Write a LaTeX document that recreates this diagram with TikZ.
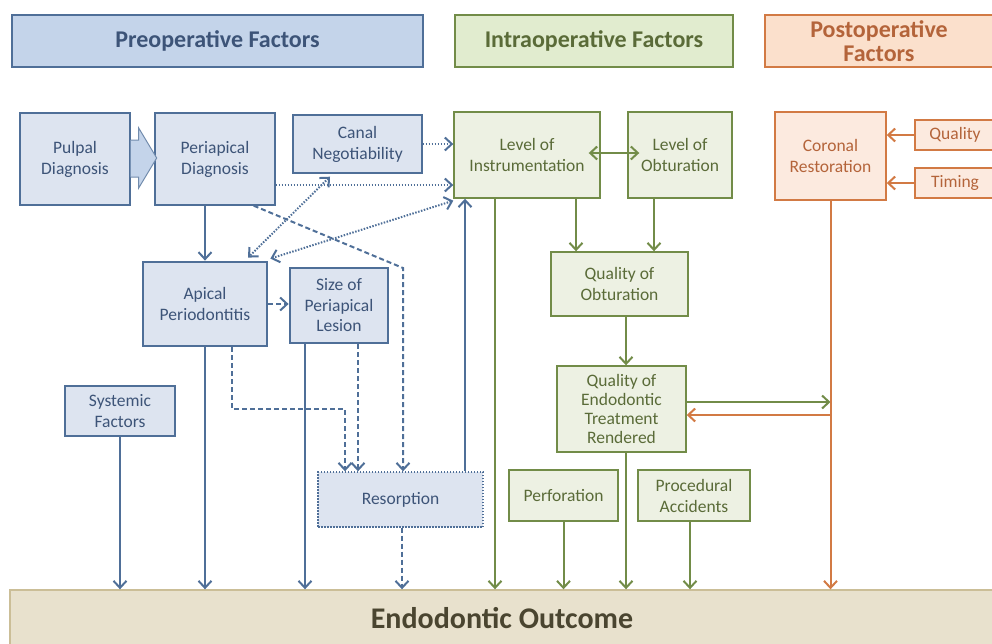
\documentclass[tikz,border=0pt]{standalone}
\usepackage{fontspec}
\setmainfont{Carlito}
\usetikzlibrary{arrows.meta}

\definecolor{preline}{HTML}{4F6F98}
\definecolor{prefill}{HTML}{DDE4F0}
\definecolor{prehead}{HTML}{C4D4EA}
\definecolor{pretext}{HTML}{3D5478}
\definecolor{intraline}{HTML}{728C48}
\definecolor{intrafill}{HTML}{EDF1E3}
\definecolor{intrahead}{HTML}{E1ECCF}
\definecolor{intratext}{HTML}{5A6B38}
\definecolor{postline}{HTML}{D27A44}
\definecolor{postfill}{HTML}{FCEADF}
\definecolor{posthead}{HTML}{FBE0CC}
\definecolor{posttext}{HTML}{B4643A}
\definecolor{outfill}{HTML}{E8E1CD}
\definecolor{outline}{HTML}{CBBE97}
\definecolor{outtext}{HTML}{4A4530}

\tikzset{
  box/.style={draw, line width=1.4pt, align=center, inner sep=2pt,
    font=\fontsize{17.5}{21}\selectfont},
  prebox/.style={box, draw=preline, fill=prefill, text=pretext},
  intrabox/.style={box, draw=intraline, fill=intrafill, text=intratext},
  postbox/.style={box, draw=postline, fill=postfill, text=posttext},
  header/.style={box, line width=1.8pt, font=\fontsize{24}{24.5}\selectfont\bfseries},
  preflow/.style={->, draw=preline, line width=2pt},
  intraflow/.style={->, draw=intraline, line width=2pt},
  postflow/.style={->, draw=postline, line width=2pt},
  dashedflow/.style={dash pattern=on 5pt off 3pt},
  dottedflow/.style={dash pattern=on 1.5pt off 1.5pt},
}

\begin{document}
\begin{tikzpicture}[x=1pt, y=-1pt, >={Straight Barb[length=7pt,width=13pt]}]

  \useasboundingbox (0,0) rectangle (992,643);

  \node[header, draw=preline, fill=prehead, text=pretext, minimum width=411, minimum height=52] (prehdr) at (217.5,41) {Preoperative Factors};
  \node[header, draw=intraline, fill=intrahead, text=intratext, minimum width=278, minimum height=52] (intrahdr) at (594,41) {Intraoperative Factors};
  \node[header, draw=postline, fill=posthead, text=posttext, minimum width=228, minimum height=52] (posthdr) at (879,41) {Postoperative\\Factors};

  \node[prebox, minimum width=110, minimum height=92] (pulpal) at (75,159) {Pulpal\\Diagnosis};
  \node[prebox, minimum width=120, minimum height=92] (periapical) at (215,159) {Periapical\\Diagnosis};
  \node[prebox, minimum width=129, minimum height=58] (canal) at (357.5,144) {Canal\\Negotiability};
  \node[prebox, line width=2.8pt, minimum width=124, minimum height=84] (apical) at (205,304) {Apical\\Periodontitis};
  \node[prebox, line width=2.8pt, minimum width=98, minimum height=75, font=\fontsize{17.5}{20.5}\selectfont] (lesion) at (339,305.5) {Size of\\Periapical\\Lesion};
  \node[prebox, minimum width=110, minimum height=50] (systemic) at (120,411) {Systemic\\Factors};
  \node[prebox, dottedflow, minimum width=165, minimum height=55] (resorption) at (400.5,499.5) {Resorption};

  \node[intrabox, minimum width=146, minimum height=86] (instr) at (527,155) {Level of\\Instrumentation};
  \node[intrabox, minimum width=104, minimum height=86] (obtur) at (680,155) {Level of\\Obturation};
  \node[intrabox, minimum width=137, minimum height=64] (qobt) at (619.5,284) {Quality of\\Obturation};
  \node[intrabox, minimum width=129, minimum height=86, font=\fontsize{17.5}{19}\selectfont] (qendo) at (621.5,409) {Quality of\\Endodontic\\Treatment\\Rendered};
  \node[intrabox, minimum width=109, minimum height=51] (perforation) at (563.5,495.5) {Perforation};
  \node[intrabox, minimum width=112, minimum height=51] (accidents) at (694,495.5) {Procedural\\Accidents};

  \node[postbox, minimum width=111, minimum height=88] (coronal) at (830.5,156) {Coronal\\Restoration};
  \node[postbox, minimum width=80, minimum height=30] (quality) at (955,135) {Quality};
  \node[postbox, minimum width=80, minimum height=30] (timing) at (955,183) {Timing};

  \node[draw=outline, fill=outfill, text=outtext, line width=1.4pt, minimum width=984, minimum height=56,
    font=\fontsize{30}{32}\selectfont\bfseries] (outcome) at (502,618) {Endodontic Outcome};

  \draw[draw=preline!80, fill=prehead, line width=1pt, shift={(pulpal.east)}]
    (0,-19) -- (8,-19) -- (8,-31) -- (26,-1) -- (8,29) -- (8,18) -- (0,18);

  \draw[preflow] (apical.north |- periapical.south) -- (apical.north);
  \draw[preflow, dottedflow] (canal.east) -- (canal.east -| instr.west);
  \draw[preflow, dottedflow] ([yshift=-26pt]periapical.east) -- ([yshift=-26pt]periapical.east -| instr.west);
  \draw[preflow, dottedflow, <->] ([xshift=-27.5pt,yshift=-3pt]canal.south) -- ([xshift=43pt,yshift=3pt]apical.north);
  \draw[preflow, dottedflow, <->] ([yshift=-2pt]instr.south west) -- ([xshift=2pt,yshift=2pt]apical.north east);
  \coordinate (bend) at (403,268);
  \draw[preflow, dashedflow] ([xshift=-22pt]periapical.south east) -- (bend) -- (bend |- resorption.north);
  \draw[preflow, dashedflow] (apical.east) -- (apical.east -| lesion.west);
  \draw[preflow, dashedflow] ([xshift=27pt]apical.south) -- ++(0,62) -| ([xshift=-55.5pt]resorption.north);
  \draw[preflow, dashedflow] ([xshift=19pt]lesion.south) -- ([xshift=19pt]lesion.south |- resorption.north);
  \draw[preflow] ([xshift=64.5pt]resorption.north) -- ([xshift=64.5pt]resorption.north |- instr.south);

  \draw[preflow] (systemic.south) -- (systemic.south |- outcome.north);
  \draw[preflow] (apical.south) -- (apical.south |- outcome.north);
  \draw[preflow] ([xshift=-34pt]lesion.south) -- ([xshift=-34pt]lesion.south |- outcome.north);
  \draw[preflow, dashedflow] ([xshift=1.5pt]resorption.south) -- ([xshift=1.5pt]resorption.south |- outcome.north);

  \draw[intraflow, <->] ([xshift=-12pt,yshift=2pt]instr.east) -- ([xshift=12pt,yshift=2pt]obtur.west);
  \draw[intraflow] ([xshift=49pt]instr.south) -- ([xshift=49pt]instr.south |- qobt.north);
  \draw[intraflow] ([xshift=-26pt]obtur.south) -- ([xshift=-26pt]obtur.south |- qobt.north);
  \draw[intraflow] ([xshift=6.5pt]qobt.south) -- ([xshift=6.5pt]qobt.south |- qendo.north);
  \draw[intraflow] ([xshift=-32pt]instr.south) -- ([xshift=-32pt]instr.south |- outcome.north);
  \draw[intraflow] ([xshift=4.5pt]qendo.south) -- ([xshift=4.5pt]qendo.south |- outcome.north);
  \draw[intraflow] (perforation.south) -- (perforation.south |- outcome.north);
  \draw[intraflow] ([xshift=-4pt]accidents.south) -- ([xshift=-4pt]accidents.south |- outcome.north);
  \draw[intraflow] ([yshift=7pt]qendo.east) -- ([yshift=7pt]qendo.east -| coronal.south);

  \draw[postflow] ([yshift=-6pt]qendo.east -| coronal.south) -- ([yshift=-6pt]qendo.east);
  \draw[postflow] (coronal.south) -- (coronal.south |- outcome.north);
  \draw[postflow] (quality.west) -- (quality.west -| coronal.east);
  \draw[postflow] (timing.west) -- (timing.west -| coronal.east);

\end{tikzpicture}
\end{document}
